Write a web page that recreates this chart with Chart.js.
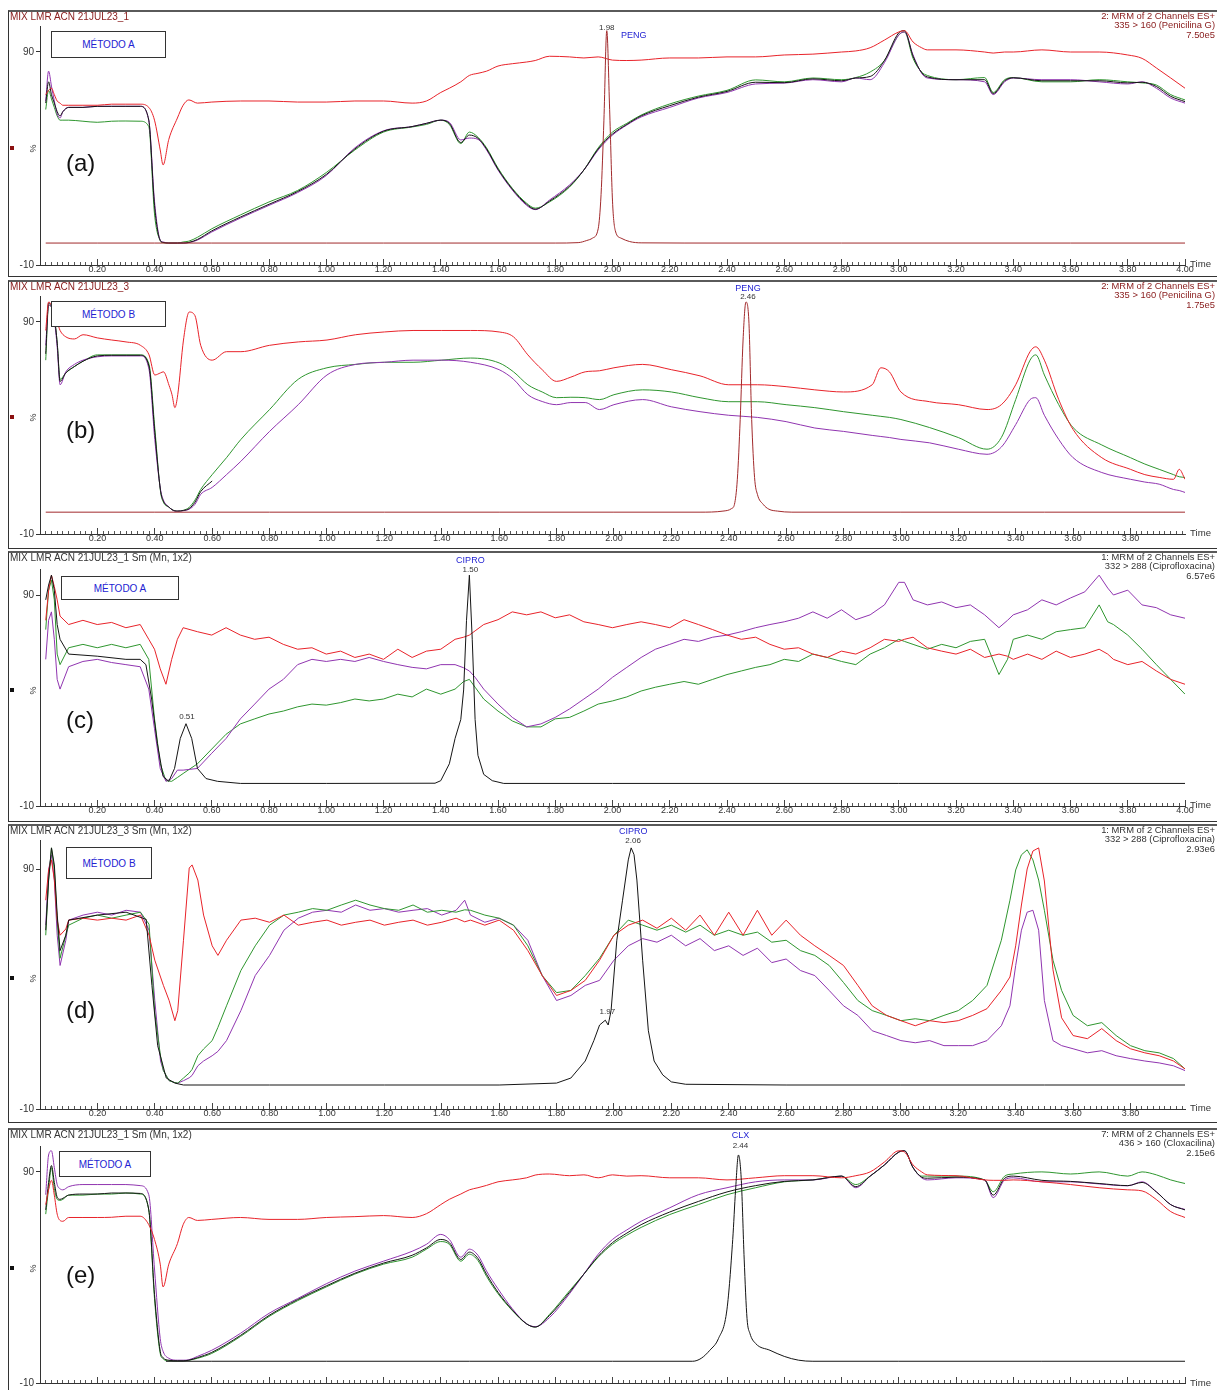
<!DOCTYPE html>
<html><head><meta charset="utf-8">
<script src="https://cdn.jsdelivr.net/npm/chart.js@4.4.1/dist/chart.umd.min.js"></script>
<style>
body{margin:0;background:#fff;width:1217px;height:1390px;overflow:hidden;position:relative;font-family:"Liberation Sans",Arial,sans-serif;}
.frame{position:absolute;left:8px;width:1220px;border-top:2px solid #5a5a5a;border-left:1px solid #333;border-bottom:1px solid #333;box-sizing:border-box;}
canvas{position:absolute;}
.t{position:absolute;white-space:nowrap;font-size:9.6px;line-height:9px;}
.box{position:absolute;border:1px solid #333;box-sizing:border-box;color:#2323d2;font-size:10px;display:flex;align-items:center;justify-content:center;background:#fff;}
.tag{position:absolute;font-size:24px;line-height:28px;color:#111;}
.pct{position:absolute;font-size:9px;line-height:9px;color:#333;transform:rotate(-90deg);}
.mark{position:absolute;left:10px;width:4px;height:4px;}
</style>
</head><body>
<script>
// ---------- DATA ----------
// Panel (a) & (e) common time grid (min)
const G1 = [0.02,0.03,0.04,0.05,0.06,0.07,0.08,0.10,0.15,0.20,
0.25,0.30,0.35,0.38,0.40,0.42,0.43,0.45,0.48,0.50,
0.52,0.55,0.60,0.70,0.80,0.90,1.00,1.10,1.20,1.30,
1.35,1.40,1.43,1.47,1.50,1.53,1.56,1.60,1.65,1.70,
1.73,1.78,1.85,1.90,1.95,2.00,2.05,2.10,2.20,2.30,
2.40,2.50,2.60,2.70,2.80,2.85,2.90,2.95,3.00,3.02,
3.05,3.08,3.10,3.20,3.30,3.33,3.37,3.40,3.50,3.60,
3.70,3.80,3.85,3.90,3.95,4.00];

const A_RED = [70,72,73,70,67,66,65,65,65,65,
65.5,65.5,65.5,64,58,44,37,49,59,65,
67.5,66,66.5,67,67,66.5,66.5,67,67,66,
67,71,73,76,79,80,81,83.4,84.5,85.3,
86,88,87.7,87.2,87.7,86.2,86,86.2,87.2,87.2,
87.7,87.7,88.6,89,90,90.5,92,95.6,99.4,100,
94.7,92,91,91,90,89.5,90,90,91,90,
90,88.6,87,82.5,77.8,73];
const A_PUR = [67,81,74,67,61,59,62,64,64,64.5,
64.5,64.5,64.5,58,20,1.7,0.8,0.3,0.3,0.3,
0.5,1.7,5.5,12,18,24,32,45,53,55,
56.5,58,57,48.7,49.6,49,44,34.6,25.2,18,
16,20.5,27.6,34.6,44,51,55.7,59.5,64,68.4,
71,75,75.4,77,76,77.8,77,85,98,99.4,
88.6,80,77.8,77,76,70,76,77.8,77,77,
76,75,76,73,68.4,66];
const A_GRN = [63,72,68,64,60,58,58,58,57.5,57,
57.5,57.6,57.5,55,14,1.5,0.5,0.3,0.3,0.8,
1.2,3,7,13.5,19.6,25,33.4,44,52.4,54.8,
56,58,56,47,52.4,50,45,35.5,26,19,
16.7,19.6,26.6,34.6,45,52.4,56.5,60.4,65.6,69.3,
72,76.9,76,77.8,77,78,80.6,86,98,99.4,
87,80.6,79,77,78,71,77,78,76,76,
77,76,75.5,74.5,70,67.5];
const A_BLK = [66,76,70,66,62,60,62,64,64,64.5,
64.5,64.5,64.5,58,18,1.5,0.6,0.3,0.3,0.3,
0.6,2,6,12.5,18.5,24.5,32.5,44.5,52.8,55,
56.5,58,56.5,47.5,51,49.5,44.5,35,25.6,18.5,
16.2,20,27,34.6,44.5,51.5,56,60,64.8,68.8,
71.5,75.8,75.6,77.4,76.5,77.8,78.5,86,99,100,
88,80.3,78.3,77,77,70.5,76.5,77.9,76.5,76.5,
76.5,75.5,75.8,73.8,69.2,66.7];
const PA_T = [0.02,0.20,0.40,0.60,0.80,1.00,1.20,1.40,1.60,1.80,
1.88,1.91,1.93,1.95,1.96,1.97,1.98,1.99,2.00,2.01,
2.03,2.06,2.10,2.40,2.80,3.20,3.60,4.00];
const PA_V = [0.3,0.3,0.3,0.3,0.3,0.3,0.3,0.3,0.3,0.3,
0.5,1.5,2.6,7,23,58,100,63,20,6,
2.6,1,0.4,0.3,0.3,0.3,0.3,0.3];

// Panel (b)
const G2 = [0.02,0.03,0.04,0.05,0.06,0.07,0.09,0.12,0.15,0.20,
0.25,0.30,0.35,0.38,0.40,0.42,0.43,0.45,0.46,0.47,
0.48,0.50,0.52,0.54,0.56,0.60,0.65,0.70,0.80,0.90,
1.00,1.10,1.20,1.30,1.40,1.50,1.60,1.65,1.70,1.75,
1.80,1.85,1.90,1.95,2.00,2.10,2.20,2.30,2.40,2.50,
2.60,2.70,2.80,2.90,2.93,2.96,3.00,3.10,3.20,3.30,
3.35,3.40,3.45,3.47,3.50,3.55,3.60,3.70,3.80,3.85,
3.90,3.95,3.97,3.99];
const B_RED = [86,99.4,98,93,90,86,83,82,84,82.5,
81.5,80.6,79,74.5,65,66,66.5,60,55.7,49.6,
55.7,81.5,94.7,93,79,72,76,76,79,80.6,
81.5,84,85.3,86,86,86,85.3,83,74.5,67.5,
62,64,66.5,67,68.4,70,67.5,64.6,60.4,60.4,
59.5,58,57,60.4,68.4,66.5,57,52.4,51,48.7,
51,60.4,76,78.3,72,53.4,39.3,26,20.5,18,
16.7,15.8,20.5,15.8];
const B_PUR = [79,98,97,91,78,60.4,66.5,70,72,73.6,
74,74,74,67.5,34.6,11,6,2.6,1.5,0.8,
0.8,1,1.7,4,8.7,12,18,24.3,38.4,51,
65,70,71,72,72,71,67.5,63,55.7,52.5,
51,52,52,48.7,51,53.4,50,47.7,46,45,
43,40,38.4,36.5,36,35.5,34.6,33,30,27.6,
31,41.6,53.4,54.3,46,34.6,26,19,15.8,14.5,
13.5,11,10.5,9.6];
const B_GRN = [72,98,97,92,80,63,66,69,71.5,74.5,
74.5,74.5,74.5,70,40,10,5,2.6,1.5,1,
0.8,1.2,2.6,6,11,18,26,34.6,48.7,63,
68.4,70,71,71,72,73,70.7,66.5,60.4,57,
54.3,54.5,54.3,53.4,55.7,58,57,54.3,52.4,52.4,
51,49.6,47.7,46,45.5,45,44,40.2,35.5,30,
35.5,53.4,72,74.5,65,51,40.2,32,26,23,
20.5,18,17,16.7];
const PBK_T = [0.02,0.03,0.04,0.05,0.06,0.07,0.09,0.12,0.15,0.20,
0.25,0.30,0.35,0.38,0.40,0.42,0.43,0.45,0.46,0.47,
0.48,0.50,0.52,0.54,0.56,0.60];
const B_BLK = [75,99,97.5,92,80,62,66,69,71.5,74,
74.3,74.3,74.3,69,38,10.5,5.5,2.6,1.5,0.9,
0.8,1.1,2,5,10,15];
const PB_T = [0.02,0.40,0.80,1.20,1.60,2.00,2.30,2.38,2.41,2.42,
2.43,2.44,2.45,2.46,2.47,2.48,2.49,2.50,2.52,2.54,
2.57,2.62,3.00,3.50,3.99];
const PB_V = [0.3,0.3,0.3,0.3,0.3,0.3,0.3,0.8,2,4,
15.8,44,81.5,99.4,91,44,16.7,8.7,4,1.7,
0.8,0.3,0.3,0.3,0.3];

// Panel (c)
const G3 = [0.02,0.03,0.04,0.05,0.06,0.07,0.10,0.15,0.20,0.25,
0.30,0.35,0.38,0.40,0.42,0.44,0.46,0.48,0.50,0.55,
0.60,0.65,0.70,0.75,0.80,0.85,0.90,0.95,1.00,1.05,
1.10,1.15,1.20,1.25,1.30,1.35,1.40,1.45,1.48,1.50,
1.52,1.55,1.60,1.65,1.70,1.75,1.80,1.85,1.90,1.95,
2.00,2.05,2.10,2.15,2.20,2.25,2.30,2.35,2.40,2.45,
2.50,2.55,2.60,2.65,2.70,2.75,2.80,2.85,2.90,2.95,
3.00,3.02,3.05,3.10,3.15,3.20,3.25,3.30,3.35,3.38,
3.40,3.45,3.50,3.55,3.60,3.65,3.70,3.73,3.75,3.80,
3.85,3.90,3.95,4.00];
const C_RED = [78,92,99.4,94,87.7,80,76,78,76,77,
74.5,76,69,64.3,55,47.7,59.5,69,74.5,72.6,
71,74.5,71,69,70,66.6,64.3,65,62,63.4,
60.4,62,59.5,64.3,60.4,63.4,64.3,69,70,71,
73,76,78.3,82,80.6,82,79.2,80.6,77.3,76,
74.5,76,77.3,76,74.5,78.3,76,73.6,71,69,
70,66.6,64.3,65,62,60.4,63.4,62,65,69,
68,69,70,65,63.4,62,64.3,60.4,62,61,
59.5,62,59.5,63.4,60.4,62,64.3,62,59.5,57,
58.5,54,50,47.7];
const C_PUR = [59.5,78,82,69,50,45.4,56,58.5,59.5,58,
57,56,45.4,26.6,7.8,1.7,3,7,7,7.8,
15,22,31.3,38.3,45.4,50,57,59.5,58.5,59.5,
58.5,60.4,58.5,57,55.7,55,57,57,55.5,54,
51,45.4,38.3,32,27.5,28.9,32,36,40.7,45.4,
51,55.7,60.4,64.3,66.6,69,68,70,71,72.6,
74.5,76,77.3,79,82,79,83,78.3,80.6,85.3,
96,96,87.7,85.3,86.7,84,85.3,80.6,74.5,78,
80.6,83,87.7,85.3,88.6,91.5,99.4,93.3,90,92.3,
85.3,84,80.6,79];
const C_GRN = [73.6,92.3,97,87.7,62,57,65,66.6,65,66.6,
65,66.6,59.5,31.3,10,2,1.7,3.5,5.4,10,
17,24,28.9,31.3,33.6,35,37,38.3,37.8,39,
40.7,39.8,40.7,43,41.7,45.4,43,45.4,49,50,
46.3,40.7,35,30.3,27.5,27.5,31.3,32,35,38.3,
39.8,41.7,44.5,46.3,47.7,49,47.7,50,52.3,54,
55.7,57,59.5,58.5,62,60.4,58.5,57,62,65,
69,68,66.6,64.3,66.6,65,68,69,52.3,59.5,
69,71,69,72.6,73.6,74.5,85.3,77.3,76,71,
64.3,57,50,43];
const PC_T = [0.02,0.03,0.04,0.05,0.06,0.07,0.10,0.20,0.30,0.35,
0.37,0.39,0.41,0.43,0.45,0.47,0.49,0.51,0.53,0.55,
0.58,0.62,0.70,1.00,1.38,1.40,1.43,1.45,1.47,1.48,
1.49,1.50,1.51,1.52,1.53,1.55,1.58,1.62,2.00,3.00,
4.00];
const PC_V = [87.7,94.7,99.4,92.3,76,69,62,61,59.5,59.5,
57,40.7,19.6,4,1.7,7.8,22,29,22,7.8,
3,1.7,0.7,0.7,0.8,2,10,22,31,45,
78,99.4,69,31,14,5,2,0.7,0.7,0.7,
0.7];

// Panel (d)
const G4 = [0.02,0.03,0.04,0.05,0.06,0.07,0.09,0.10,0.15,0.20,
0.25,0.30,0.35,0.38,0.40,0.42,0.43,0.45,0.47,0.48,
0.50,0.52,0.53,0.55,0.57,0.60,0.62,0.65,0.70,0.75,
0.80,0.85,0.90,0.95,1.00,1.05,1.10,1.15,1.20,1.25,
1.30,1.35,1.40,1.45,1.48,1.50,1.55,1.60,1.65,1.70,
1.75,1.80,1.85,1.90,1.95,2.00,2.05,2.10,2.15,2.20,
2.25,2.30,2.35,2.40,2.45,2.50,2.55,2.60,2.65,2.70,
2.75,2.80,2.85,2.90,2.95,3.00,3.05,3.10,3.15,3.20,
3.25,3.30,3.35,3.38,3.40,3.42,3.44,3.46,3.48,3.50,
3.53,3.56,3.60,3.65,3.70,3.75,3.80,3.85,3.90,3.95,
3.99];
const D_RED = [77,89.6,93.8,85.4,68.7,62.4,65,68.7,69.5,68.7,
69.5,68.7,70.8,62.4,52,45,41.5,35.2,26.8,31,
60.3,90.4,91.7,85.4,70.8,58,54,60.3,68.7,69.5,
67.8,70.8,66.6,67.8,68.7,66.6,67.8,68.7,66.6,67.8,
68.7,66.6,67.8,69.5,68,68.7,66.6,68.7,64.5,56,
45.6,37.3,39.4,43.6,52,62.4,66.6,68.7,65.3,69.5,
64.5,70.8,62.4,72,62.4,72.8,62.4,68.7,62.4,58,
54,49.8,41.5,33,29,26.8,24.7,26.8,26,26.8,
29,31.8,39.4,45,58,75,90,97.5,98.8,85,
48,28,20.6,19.3,23.5,18.5,15.1,13.4,12.2,10,
6.7];
const D_PUR = [66.6,89.6,95.9,85.4,62.4,49.8,60.3,68.7,70.8,72,
70.8,72.8,72,64.5,35.2,10,6,1.8,1,0.8,
1.8,3,4,8,10,12.2,14,18.5,31,45.6,
54,64.5,69.5,72,72.8,72,75,72.8,73.5,72,
72.8,73.5,70.8,72.8,77,70.8,67.8,69.5,66.6,60.3,
45.6,35.2,37.3,41.5,43.6,52,58,61,59.5,62.4,
58,61,56,58,54,57,51,52.5,47.7,45.6,
39.4,33,29,22.6,20.6,18.5,17.6,18.5,16.4,16.4,
16.4,18.5,24.7,33,49.8,64.5,72,72.8,64.5,35.2,
18.5,16.4,15.1,13.4,14.3,12.2,11,10,9.2,8,
6];
const D_GRN = [62.4,85.4,98.8,89.6,68.7,52.8,62.4,66.6,69.5,70.8,
69.5,70.8,72,67,30,12,6,1.8,1,0.8,
2.9,5,6.5,12.2,15,18.5,24,33,47.7,58,
66.6,70.8,72,73.5,72.8,75,77,75,73.5,72.8,
75,72,72.8,72,73,72.8,70.8,69.5,66.6,58,
45.6,38.5,39.4,45.6,52.8,62.4,68.7,66.6,64.5,66.6,
63.7,66.6,62.4,64.5,62.4,63.7,59.5,60.3,56,54,
49.8,42.7,35.2,31,29,26.8,27.6,26.8,29,31,
35.2,41.5,60.3,77,89.6,95.9,98,93.8,85.4,72.8,
52,39.4,29,24.7,26,20.6,16.4,14.3,13.4,11,
6.7];
const PD_T = [0.02,0.03,0.04,0.05,0.06,0.07,0.09,0.10,0.20,0.30,
0.37,0.39,0.41,0.44,0.47,0.50,0.80,1.20,1.60,1.80,
1.85,1.90,1.93,1.95,1.97,1.98,1.99,2.01,2.03,2.05,
2.06,2.07,2.08,2.10,2.12,2.14,2.17,2.20,2.25,2.60,
3.00,3.50,3.99];
const PD_V = [64.5,85.4,98.8,91.7,70.8,56,62.4,68.7,70.8,72,
69,41.5,16.4,2.9,0.8,0,0,0,0,0.8,
2.9,10,18.5,25,27,25,31,60.3,77,93.8,
98.8,96,85.4,52,22.6,10,4.2,1.3,0.3,0,
0,0,0];

// Panel (e) (time grid G1)
const E_RED = [74.5,81.5,86,79,70,67,66.6,68.4,68.4,68.4,
68.5,69,69,65,58,46.3,35.5,46.3,56,65,
68.4,67,67.5,68.4,67.5,67.5,68.4,68.8,69.3,68.4,
70.2,74.5,77,79.5,81.5,82.5,83.6,85.3,86.2,87.2,
88.5,89,88.2,88.6,87.2,88.6,88,88.2,87.2,87.2,
86.2,87.2,88.2,88.2,87.2,88.2,90,94.7,100,99.4,
93.3,90,88.6,88.2,86.2,86,86,86.2,85.3,84,
82.5,81.5,81,76.9,71.2,68.4];
const E_PUR = [79.2,98,100,92,84,82,81.5,83,84,84,
84,84,83.5,79.2,44,11,5,1.7,0.8,0.8,
1,2.6,5.5,13.5,23,30,37,43,47.7,52.4,
55.7,60.4,58,49.6,53.4,50.5,43,34.6,25.2,18,
16.7,21,32.3,41.6,51,58,62.5,66.6,73,79.2,
82.5,85.3,86.2,86.2,88,82.5,88,93.3,99.4,100,
92,87.2,86.2,87.2,86.2,77.8,86.2,87.2,85.3,85.3,
84.3,83.4,85.3,80.6,74.5,72.2];
const E_GRN = [70,82,92,82,77,76.5,77,79,79,79.5,
79.5,80,79.5,72,30,4,1.5,0.5,0.5,0.5,
0.8,1.7,4,12,21.5,29,35.5,41.6,46.3,49.6,
53.4,57,55.7,47.7,51,48,40.5,32.3,24.3,18,
16.5,22.5,33.7,41.6,49.6,55.7,60,63.7,69.8,74.5,
79.2,82.5,85.3,86.2,88,84,88,93.3,99.4,100,
92,88,88,88,86.2,80.6,88,89,90,89,
90,88,90,88.6,86.2,84.5];
const E_BLK = [72,85,93,85,78,77,77.5,79,79.5,79.5,
80,80,79.8,72,32,5,2,0.8,0.5,0.5,
0.8,2,4.5,12.5,22,29.5,36,42,46.8,50.5,
54,58,56.5,48.5,52,49,41.5,33,24.6,18,
16.5,22,33,41.6,50,56.5,61,65,71,76,
80.5,83.5,85.5,86.2,88,83,88,93.3,99.4,100,
92,87.5,87,87.5,86.2,79,87,88,86,85.5,
84.5,83.5,85,80.5,74.5,72];
const PE_T = [0.44,0.60,1.00,1.50,2.00,2.28,2.31,2.34,2.37,2.40,
2.42,2.43,2.44,2.45,2.46,2.47,2.48,2.50,2.55,2.60,
2.65,2.70,3.00,3.50,4.00];
const PE_V = [0.3,0.3,0.3,0.3,0.3,0.3,1.7,5.5,11,25,
58,81.5,98,86,48.7,20.5,13.5,8.7,5.5,2.6,
0.8,0.3,0.3,0.3,0.3];

// ---------- STYLE / LAYOUT ----------
const RED='#e8232a', PUR='#9035b0', GRN='#2f962f', BLK='#151515', MAR='#a12a2c', BLUE='#2323d2', NUM='#333';
const YMAX = 102;
Chart.defaults.font.family = '"Liberation Sans", Arial, sans-serif';

function ser(ts, vs, color, smooth){
  return {data: ts.map((t,i)=>({x:t, y:vs[i]})), borderColor:color, borderWidth:1, pointRadius:0,
    fill:false, tension:0, cubicInterpolationMode: smooth ? 'monotone' : 'default'};
}

const PANELS = [
 {top:10, bottom:276, y90:52, yBot:265, xmax:4.00, showLabels:true, hdr:'#8b2020',
  left:'MIX LMR ACN 21JUL23_1', right:['2: MRM of 2 Channels ES+','335 > 160 (Penicilina G)','7.50e5'],
  box:[51,31,115,27,'MÉTODO A'], tag:'(a)', tagY:163, pctY:148, mark:'#8b1010',
  datasets:[ser(PA_T,PA_V,MAR,true), ser(G1,A_RED,RED,true), ser(G1,A_BLK,BLK,true), ser(G1,A_PUR,PUR,true), ser(G1,A_GRN,GRN,true)],
  labels:[{t:1.98,v:100,text:'1.98',color:NUM,size:8,dx:0,dy:-3},{t:1.98,v:100,text:'PENG',color:BLUE,size:9,dx:27,dy:5}]},
 {top:280, bottom:548, y90:322, yBot:534, xmax:3.99, showLabels:true, hdr:'#8b2020',
  left:'MIX LMR ACN 21JUL23_3', right:['2: MRM of 2 Channels ES+','335 > 160 (Penicilina G)','1.75e5'],
  box:[51,301,115,26,'MÉTODO B'], tag:'(b)', tagY:430, pctY:417, mark:'#8b1010',
  datasets:[ser(PB_T,PB_V,MAR,true), ser(G2,B_RED,RED,true), ser(PBK_T,B_BLK,BLK,true), ser(G2,B_PUR,PUR,true), ser(G2,B_GRN,GRN,true)],
  labels:[{t:2.46,v:99.4,text:'PENG',color:BLUE,size:9,dx:2,dy:-14},{t:2.46,v:99.4,text:'2.46',color:NUM,size:8,dx:2,dy:-5}]},
 {top:551, bottom:821, y90:595, yBot:806, xmax:4.00, showLabels:true, hdr:'#333',
  left:'MIX LMR ACN 21JUL23_1 Sm (Mn, 1x2)', right:['1: MRM of 2 Channels ES+','332 > 288 (Ciprofloxacina)','6.57e6'],
  box:[61,576,118,24,'MÉTODO A'], tag:'(c)', tagY:720, pctY:690, mark:'#111',
  datasets:[ser(PC_T,PC_V,BLK,false), ser(G3,C_RED,RED,false), ser(G3,C_PUR,PUR,false), ser(G3,C_GRN,GRN,false)],
  labels:[{t:1.50,v:99.4,text:'CIPRO',color:BLUE,size:9,dx:1,dy:-15},{t:1.50,v:99.4,text:'1.50',color:NUM,size:8,dx:1,dy:-5},{t:0.51,v:29,text:'0.51',color:NUM,size:8,dx:1,dy:-7}]},
 {top:824, bottom:1122, y90:869, yBot:1109, xmax:3.99, showLabels:true, hdr:'#333',
  left:'MIX LMR ACN 21JUL23_3 Sm (Mn, 1x2)', right:['1: MRM of 2 Channels ES+','332 > 288 (Ciprofloxacina)','2.93e6'],
  box:[66,847,86,32,'MÉTODO B'], tag:'(d)', tagY:1010, pctY:978, mark:'#111',
  datasets:[ser(PD_T,PD_V,BLK,false), ser(G4,D_RED,RED,false), ser(G4,D_GRN,GRN,false), ser(G4,D_PUR,PUR,false)],
  labels:[{t:2.06,v:98.8,text:'CIPRO',color:BLUE,size:9,dx:2,dy:-16},{t:2.06,v:98.8,text:'2.06',color:NUM,size:8,dx:2,dy:-7},{t:1.97,v:27,text:'1.97',color:NUM,size:8,dx:2,dy:-8}]},
 {top:1128, bottom:1392, y90:1172, yBot:1384, xmax:4.00, showLabels:false, hdr:'#333',
  left:'MIX LMR ACN 21JUL23_1 Sm (Mn, 1x2)', right:['7: MRM of 2 Channels ES+','436 > 160 (Cloxacilina)','2.15e6'],
  box:[59,1151,92,26,'MÉTODO A'], tag:'(e)', tagY:1275, pctY:1268, mark:'#111',
  datasets:[ser(PE_T,PE_V,BLK,true), ser(G1,E_RED,RED,true), ser(G1,E_BLK,BLK,true), ser(G1,E_PUR,PUR,true), ser(G1,E_GRN,GRN,true)],
  labels:[{t:2.44,v:98,text:'CLX',color:BLUE,size:9,dx:2,dy:-19},{t:2.44,v:98,text:'2.44',color:NUM,size:8,dx:2,dy:-9}]}
];

const peakLabelPlugin = {
  id:'peakLabels',
  afterDatasetsDraw(chart){
    const items = chart.$peakItems || [];
    const ctx = chart.ctx, xs = chart.scales.x, ys = chart.scales.y;
    ctx.save();
    items.forEach(it=>{
      ctx.font = it.size + 'px "Liberation Sans", Arial, sans-serif';
      ctx.fillStyle = it.color; ctx.textAlign = 'center'; ctx.textBaseline = 'middle';
      ctx.fillText(it.text, xs.getPixelForValue(it.t) + it.dx, ys.getPixelForValue(it.v) + it.dy);
    });
    ctx.restore();
  }
};

function el(cls, css, text){
  const d = document.createElement('div');
  d.className = cls; Object.assign(d.style, css);
  if (text !== undefined) d.textContent = text;
  document.body.appendChild(d); return d;
}

PANELS.forEach(p=>{
  el('frame', {top:p.top+'px', height:(p.bottom-p.top+1)+'px'});
  const cTop = p.top + 2, H = p.bottom - p.top - 3, W = 1208;
  const ppu = (p.yBot - p.y90) / 100;
  const yTop = p.yBot - (YMAX + 10) * ppu;
  const padTop = yTop - cTop;
  const chartBottom = p.yBot - cTop;
  const xh = H - chartBottom;
  const cv = document.createElement('canvas');
  cv.width = W; cv.height = H;
  Object.assign(cv.style, {left:'9px', top:cTop+'px', width:W+'px', height:H+'px'});
  document.body.appendChild(cv);

  const minor = [], major = [];
  for (let k = 1; k * 0.02 <= p.xmax + 1e-9; k++) minor.push({value: Math.round(k*2)/100});
  for (let k = 1; k * 0.2 <= p.xmax + 1e-9; k++) major.push({value: Math.round(k*20)/100});

  const ch = new Chart(cv.getContext('2d'), {
    type:'line',
    data:{datasets:p.datasets},
    plugins:[peakLabelPlugin],
    options:{
      responsive:false, animation:false, devicePixelRatio:1, events:[],
      layout:{autoPadding:false, padding:{left:0, right:W-1176, top:padTop, bottom:0}},
      plugins:{legend:{display:false}, tooltip:{enabled:false}},
      scales:{
        x:{type:'linear', min:0, max:p.xmax, position:'bottom', weight:0,
           afterFit:s=>{s.height=0;}, afterBuildTicks:s=>{s.ticks = minor.map(o=>({value:o.value}));},
           ticks:{display:false},
           grid:{drawOnChartArea:false, drawTicks:true, tickLength:-3, color:'#555', tickWidth:1},
           border:{display:false}},
        x2:{type:'linear', min:0, max:p.xmax, position:'bottom', weight:1,
           afterFit:s=>{s.height=xh;}, afterBuildTicks:s=>{s.ticks = major.map(o=>({value:o.value}));},
           ticks:{display:p.showLabels, autoSkip:false, maxRotation:0, minRotation:0, padding:5,
                  font:{size:9}, color:'#333', callback:v=>Number(v).toFixed(2)},
           grid:{drawOnChartArea:false, drawTicks:true, tickLength:-6, color:'#444', tickWidth:1},
           border:{display:true, color:'#333', width:1}},
        y:{type:'linear', min:-10, max:YMAX, position:'left',
           afterFit:s=>{s.width=31;}, afterBuildTicks:s=>{s.ticks=[{value:-10},{value:90}];},
           ticks:{font:{size:10}, color:'#333', padding:2, autoSkip:false},
           grid:{drawOnChartArea:false, drawTicks:true, tickLength:4, color:'#333'},
           border:{display:true, color:'#333', width:1}}
      }
    }
  });
  ch.$peakItems = p.labels;
  ch.draw();

  // header texts
  el('t', {left:'10px', top:(p.top+1)+'px', color:p.hdr, lineHeight:'11px', fontSize:'10px'}, p.left);
  p.right.forEach((s,i)=> el('t', {right:'2px', top:(p.top+1+i*9.4)+'px', color:p.hdr, lineHeight:'10px', textAlign:'right', fontSize:'9.4px'}, s));
  el('box', {left:p.box[0]+'px', top:p.box[1]+'px', width:p.box[2]+'px', height:p.box[3]+'px'}, p.box[4]);
  el('tag', {left:'66px', top:(p.tagY-14)+'px'}, p.tag);
  el('pct', {left:'29px', top:(p.pctY-4)+'px'}, '%');
  el('mark', {top:(p.pctY-2)+'px', background:p.mark});
  el('t', {left:'1190px', top:(p.yBot-6)+'px', color:'#333', lineHeight:'10px'}, 'Time');
});
</script>
</body></html>
